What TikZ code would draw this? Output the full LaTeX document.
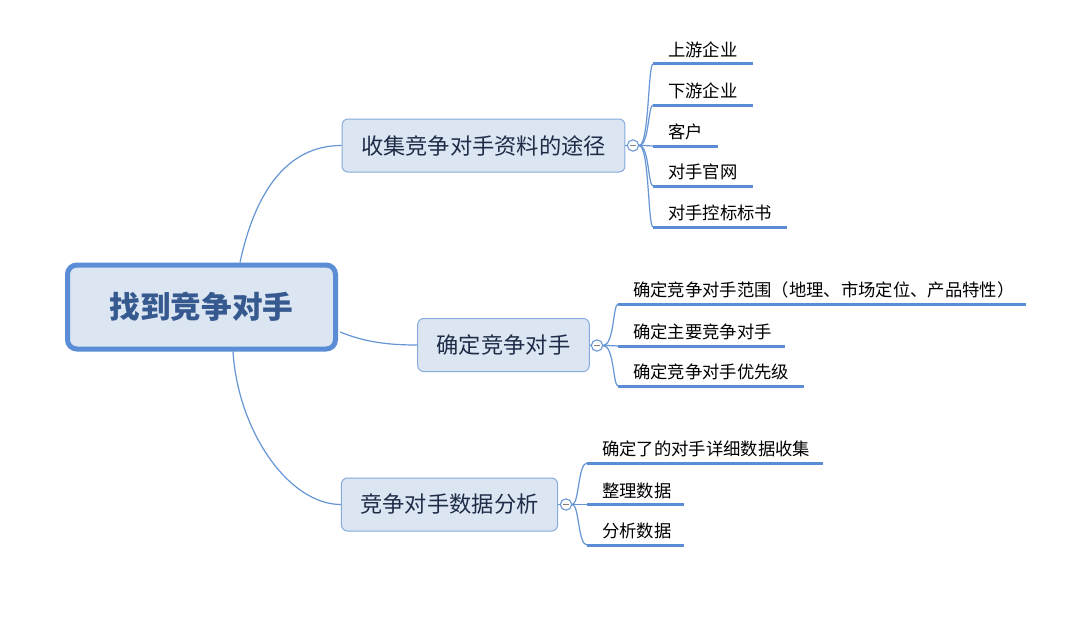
\documentclass[tikz,border=0pt]{standalone}
\usepackage{fontspec}
\setmainfont{Noto Sans CJK SC}
\usetikzlibrary{calc}

\definecolor{lineblue}{HTML}{6595D4}
\definecolor{ulblue}{HTML}{5B8DD6}
\definecolor{boxfill}{HTML}{DCE6F3}
\definecolor{boxedge}{HTML}{86AADB}
\definecolor{roottext}{HTML}{365A90}
\definecolor{branchtext}{HTML}{1E2C48}

\tikzset{
  rootbox/.style={draw=ulblue, line width=3.75pt, fill=boxfill, rounded corners=7pt,
    minimum width=201pt, minimum height=63pt, text=roottext,
    font=\fontsize{23}{26}\selectfont\bfseries},
  branchbox/.style={draw=boxedge, line width=0.75pt, fill=boxfill, rounded corners=4.5pt,
    inner xsep=14.25pt, minimum height=39.75pt, text=branchtext,
    font=\fontsize{16.7}{19}\selectfont},
  fold/.style={circle, draw=lineblue, line width=0.8pt, fill=white, minimum size=8.5pt,
    inner sep=0pt, path picture={\draw[gray, line width=0.5pt]
      ([xshift=-2pt]path picture bounding box.center) --
      ([xshift=2pt]path picture bounding box.center);}},
  leaf/.style={anchor=south west, align=left, inner xsep=11.25pt, inner ysep=5.25pt,
    text depth=0pt, font=\fontsize{13}{15}\selectfont},
  link/.style={draw=lineblue, line width=0.9pt},
  uline/.style={draw=ulblue, line width=2.25pt}
}

\begin{document}
\begin{tikzpicture}[x=0.75pt, y=-0.75pt]
    \fill[white] (0,0) rectangle (1080,617);
    \useasboundingbox (0,0) rectangle (1080,617);

    % centre
    \node[rootbox] (root) at (201.5,307) {找到竞争对手};

    % branches
    \node[branchbox] (b1) at (483.5,145.5) {收集竞争对手资料的途径};
    \node[branchbox] (b2) at (503.5,345) {确定竞争对手};
    \node[branchbox] (b3) at (449.5,504.5) {竞争对手数据分析};
    \node[fold] (c1) at (633,145.5) {};
    \node[fold] (c2) at (597,345.5) {};
    \node[fold] (c3) at (566,504.5) {};

    \draw[link] ($(root.north)+(38.5,0)$) .. controls +(15,-70) and +(-55,0) .. (b1.west);
    \draw[link] ($(root.east)+(2,25)$) .. controls +(25,10) and +(-30,0) .. (b2.west);
    \draw[link] ($(root.south)+(31.5,0)$) .. controls +(5,80) and +(-52,0) .. (b3.west);
    \draw[link] (b1.east) -- (c1.west);
    \draw[link] (b2.east) -- (c2.west);
    \draw[link] (b3.east) -- (c3.west);

    % leaves of b1
    \node[leaf, text width=51.75pt] (u1) at (653,64) {上游企业};
    \node[leaf, text width=51.75pt] (u2) at (653,105) {下游企业};
    \node[leaf, text width=25.5pt] (u3) at (653,146) {客户};
    \node[leaf, text width=51.75pt] (u4) at (653,186) {对手官网};
    \node[leaf, text width=77.25pt] (u5) at (653,227) {对手控标标书};
    \foreach \u in {u1,u2,u3,u4,u5} {
        \draw[link] (c1.east) .. controls +(10,0) and +(-5,0) .. (\u.south west);
        \draw[uline] (\u.south west) -- (\u.south east);
    }

    % leaves of b2
    \node[leaf, text width=282.75pt] (v1) at (618,304) {确定竞争对手范围（地理、市场定位、产品特性）};
    \node[leaf, text width=102pt] (v2) at (618,346) {确定主要竞争对手};
    \node[leaf, text width=116.25pt] (v3) at (618,386) {确定竞争对手优先级};
    \foreach \v in {v1,v2,v3} {
        \draw[link] (c2.east) .. controls +(11,0) and +(-5,0) .. (\v.south west);
        \draw[uline] (\v.south west) -- (\v.south east);
    }

    % leaves of b3
    \node[leaf, text width=153.75pt] (w1) at (587,463) {确定了的对手详细数据收集};
    \node[leaf, text width=49.5pt] (w2) at (587,504.5) {整理数据};
    \node[leaf, text width=49.5pt] (w3) at (587,545) {分析数据};
    \foreach \w in {w1,w2,w3} {
        \draw[link] (c3.east) .. controls +(7,0) and +(-9,0) .. (\w.south west);
        \draw[uline] (\w.south west) -- (\w.south east);
    }
\end{tikzpicture}
\end{document}
